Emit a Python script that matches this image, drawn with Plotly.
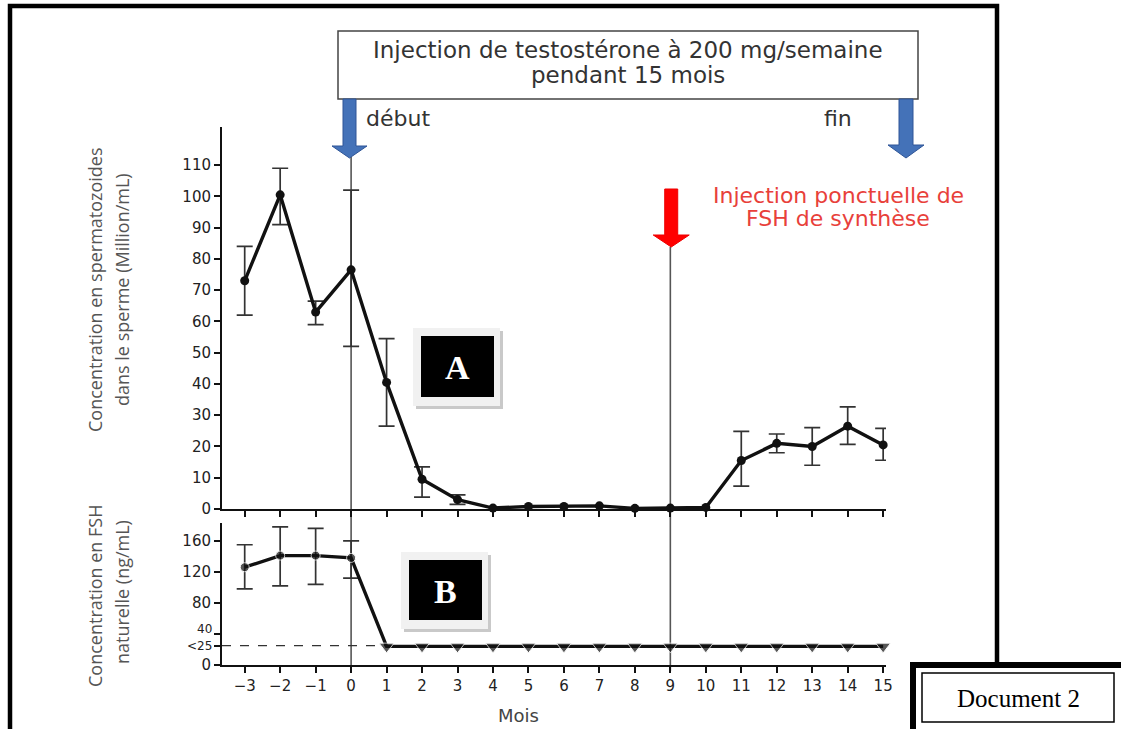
import plotly.graph_objects as go

W, H = 1121, 729

# ---------------- data ----------------
months = [-3, -2, -1, 0, 1, 2, 3, 4, 5, 6, 7, 8, 9, 10, 11, 12, 13, 14, 15]
month_labels = ["−3", "−2", "−1", "0", "1", "2", "3", "4", "5", "6", "7", "8",
                "9", "10", "11", "12", "13", "14", "15"]

# Panel A : sperm concentration (million/mL)
sperm = [73, 100.5, 63, 76.5, 40.5, 9.5, 3, 0.3, 0.8, 0.8, 1.0, 0.2, 0.3, 0.5,
         15.5, 21, 20, 26.5, 20.5]
sperm_err_months = [-3, -2, -1, 0, 1, 2, 3, 11, 12, 13, 14, 15]
sperm_err_high = [84, 109, 66.5, 102, 54.5, 13.5, 4.5, 24.8, 24, 26, 32.7, 25.8]
sperm_err_low = [62, 91, 59, 52, 26.5, 3.8, 1.5, 7.3, 18, 14, 20.7, 15.6]

# Panel B : natural FSH concentration (ng/mL)
fsh = [126, 141, 141, 138, 24, 24, 24, 24, 24, 24, 24, 24, 24, 24, 24, 24, 24, 24, 24]
fsh_err_months = [-3, -2, -1, 0]
fsh_err_high = [155, 178, 176, 160]
fsh_err_low = [98, 102, 104, 112]
fsh_threshold = 25

sperm_ticks = [0, 10, 20, 30, 40, 50, 60, 70, 80, 90, 100, 110]
fsh_tickvals = [0, 25, 40, 80, 120, 160]
fsh_ticktext = ["0", "", "", "80", "120", "160"]
fsh_close_labels = [(40, "40", 5), (25, "<25", 0)]

# ---------------- helpers ----------------
def P(px):
    return px / W


def Q(py):
    return 1 - py / H


X_RANGE = [-3.64, 15.08]
PX_PER_MONTH = 35.47
X0_PX = 351
X_DOMAIN = [P(222), P(886)]
YA_DOMAIN = [Q(509), Q(127)]
YA_RANGE = [0, 122.2]
YB_DOMAIN = [Q(665), Q(523)]
YB_RANGE = [0, 183]

INK = "#111111"
ERR = "#333333"


def err_arrays(xs, ys, err_x, hi, lo):
    plus, minus, ex, ey = [], [], [], []
    for x, h, l in zip(err_x, hi, lo):
        y = ys[xs.index(x)]
        ex.append(x)
        ey.append(y)
        plus.append(h - y)
        minus.append(y - l)
    return ex, ey, plus, minus


fig = go.Figure()

# error bars A
ex, ey, ep, em = err_arrays(months, sperm, sperm_err_months, sperm_err_high, sperm_err_low)
fig.add_trace(go.Scatter(
    x=ex, y=ey, mode="markers", marker=dict(size=1, color="rgba(0,0,0,0)"),
    error_y=dict(type="data", array=ep, arrayminus=em, color=ERR, thickness=1.7, width=8),
    xaxis="x", yaxis="y", showlegend=False, hoverinfo="skip", cliponaxis=False))
# line A
fig.add_trace(go.Scatter(
    x=months, y=sperm, mode="lines+markers",
    line=dict(color=INK, width=3.4), marker=dict(size=9, color=INK),
    xaxis="x", yaxis="y", showlegend=False, cliponaxis=False))

# error bars B
ex, ey, ep, em = err_arrays(months, fsh, fsh_err_months, fsh_err_high, fsh_err_low)
fig.add_trace(go.Scatter(
    x=ex, y=ey, mode="markers", marker=dict(size=1, color="rgba(0,0,0,0)"),
    error_y=dict(type="data", array=ep, arrayminus=em, color=ERR, thickness=1.7, width=8),
    xaxis="x2", yaxis="y2", showlegend=False, hoverinfo="skip", cliponaxis=False))
# line B
symbols = ["circle" if m <= 0 else "triangle-down" for m in months]
sizes = [9 if m <= 0 else 13 for m in months]
fig.add_trace(go.Scatter(
    x=months, y=fsh, mode="lines+markers",
    line=dict(color=INK, width=3.4), marker=dict(size=sizes, color=INK, symbol=symbols),
    xaxis="x2", yaxis="y2", showlegend=False, cliponaxis=False))

TICKFAMILY = "DejaVu Sans"
tickfont = dict(family=TICKFAMILY, size=15, color="#222222")
axis_common = dict(showgrid=False, zeroline=False, showline=True, linecolor=INK,
                   linewidth=2, ticks="outside", ticklen=6, tickwidth=1.6,
                   tickcolor=INK, tickfont=tickfont)

fig.update_layout(
    autosize=True, margin=dict(l=0, r=0, t=0, b=0, autoexpand=False),
    paper_bgcolor="white", plot_bgcolor="rgba(0,0,0,0)",
    xaxis=dict(domain=X_DOMAIN, range=X_RANGE, anchor="y", tickvals=months,
               showticklabels=False, **axis_common),
    yaxis=dict(domain=YA_DOMAIN, range=YA_RANGE, anchor="x", tickvals=sperm_ticks,
               **axis_common),
    xaxis2=dict(domain=X_DOMAIN, range=X_RANGE, anchor="y2", tickvals=months,
                ticktext=month_labels, **axis_common),
    yaxis2=dict(domain=YB_DOMAIN, range=YB_RANGE, anchor="x2", tickvals=fsh_tickvals,
                ticktext=fsh_ticktext, **axis_common),
)

shapes = []


def polyline(pts, color="black", width=1.5, close=False, fill=None):
    path = "M " + " L ".join(f"{P(a)},{Q(b)}" for a, b in pts) + (" Z" if close else "")
    d = dict(type="path", xref="paper", yref="paper", path=path,
             line=dict(color=color, width=width))
    if fill:
        d["fillcolor"] = fill
    return d


# outer frame (left, top, right edges; bottom is cut off by the picture edge)
shapes.append(polyline([(10, 729), (10, 6), (997, 6), (997, 664)], width=4.5))

# vertical event lines (month 0 and month 9)
shapes.append(dict(type="line", xref="x", yref="paper", x0=0, x1=0, y0=Q(157), y1=Q(673),
                   line=dict(color="#555555", width=1.6), layer="below"))
shapes.append(dict(type="line", xref="x", yref="paper", x0=9, x1=9, y0=Q(247), y1=Q(671),
                   line=dict(color="#555555", width=1.6), layer="below"))

# detection threshold dashed line
shapes.append(dict(type="line", xref="x2", yref="y2", x0=X_RANGE[0], x1=15,
                   y0=fsh_threshold, y1=fsh_threshold,
                   line=dict(color="#333333", width=1.3, dash="dash"), layer="below"))

# top text box
shapes.append(dict(type="rect", xref="paper", yref="paper", x0=P(338), y0=Q(31),
                   x1=P(918), y1=Q(99), line=dict(color="#444444", width=1.5),
                   fillcolor="white"))


def month_px(m):
    return X0_PX + m * PX_PER_MONTH


def arrow(xc, y_top, y_head, y_tip, shaft_hw, head_hw, fill, edge):
    pts = [(xc - shaft_hw, y_top), (xc + shaft_hw, y_top), (xc + shaft_hw, y_head),
           (xc + head_hw, y_head), (xc, y_tip), (xc - head_hw, y_head),
           (xc - shaft_hw, y_head)]
    return polyline(pts, color=edge, width=1, close=True, fill=fill)


# blue arrows : start (month 0) and end of treatment
shapes.append(arrow(month_px(0) - 1.5, 99, 146, 158, 6.5, 17.5, "#4472b8", "#2f5597"))
shapes.append(arrow(906, 99, 145, 158, 7, 18, "#4472b8", "#2f5597"))
# red arrow : FSH injection at month 9
shapes.append(arrow(month_px(9) + 1, 189, 235, 247, 6.5, 18, "#ff0000", "#ee0000"))


def label_box(x0, y0, x1, y1):
    # shadow, light frame, black box
    shapes.append(dict(type="rect", xref="paper", yref="paper", x0=P(x0 - 5), y0=Q(y0 - 5),
                       x1=P(x1 + 9), y1=Q(y1 + 12), fillcolor="#c9c9c9", line=dict(width=0)))
    shapes.append(dict(type="rect", xref="paper", yref="paper", x0=P(x0 - 8), y0=Q(y0 - 8),
                       x1=P(x1 + 6), y1=Q(y1 + 9), fillcolor="#f1f1f1", line=dict(width=0)))
    shapes.append(dict(type="rect", xref="paper", yref="paper", x0=P(x0), y0=Q(y0),
                       x1=P(x1), y1=Q(y1), fillcolor="black", line=dict(width=0)))


label_box(421, 336, 494, 397)
label_box(409, 560, 482, 620)

# Document 2 box (outer thick border runs off the right/bottom edges)
shapes.append(dict(type="rect", xref="paper", yref="paper", x0=P(913), y0=Q(729),
                   x1=P(1121), y1=Q(665), fillcolor="white", line=dict(width=0)))
shapes.append(polyline([(913, 729), (913, 665), (1121, 665)], width=6))
shapes.append(dict(type="rect", xref="paper", yref="paper", x0=P(922), y0=Q(673),
                   x1=P(1114), y1=Q(722), line=dict(color="black", width=1.5)))

fig.update_layout(shapes=shapes)

ann = []


def text(x, y, s, size, color="#333333", family="DejaVu Sans", angle=0, xanchor="center",
         weight="normal"):
    ann.append(dict(x=P(x), y=Q(y), xref="paper", yref="paper", text=s, showarrow=False,
                    xanchor=xanchor, yanchor="middle", textangle=angle,
                    font=dict(family=family, size=size, color=color, weight=weight)))


text(628, 50, "Injection de testostérone à 200 mg/semaine", 23)
text(628, 75, "pendant 15 mois", 23)
text(364, 119, "début", 22, xanchor="left")
text(838, 119, "fin", 22)
text(838, 195, "Injection ponctuelle de", 22, color="#e8403a")
text(838, 218, "FSH de synthèse", 22, color="#e8403a")

text(95, 290, "Concentration en spermatozoides", 18, color="#555555", family="Open Sans", angle=-90)
text(122, 290, "dans le sperme (Million/mL)", 18, color="#555555", family="Open Sans", angle=-90)
text(95, 596, "Concentration en FSH", 18, color="#555555", family="Open Sans", angle=-90)
text(122, 592, "naturelle (ng/mL)", 18, color="#555555", family="Open Sans", angle=-90)

text(518, 715, "Mois", 18, color="#444444")

text(457.5, 368, "A", 34, color="white", family="Liberation Serif", weight="bold")
text(445.5, 591, "B", 34, color="white", family="Liberation Serif", weight="bold")

text(1018, 698, "Document 2", 25, color="black", family="Liberation Serif")

# close y2 tick labels (40 and <25), nudged apart as in the original
for val, lab, shift in fsh_close_labels:
    ann.append(dict(x=X_DOMAIN[0], xref="paper", y=val, yref="y2", text=lab, showarrow=False,
                    xanchor="right", yanchor="middle", xshift=-8, yshift=shift,
                    font=dict(family=TICKFAMILY, size=12, color="#222222")))

fig.update_layout(annotations=ann)

fig.write_html(
    "out.html",
    config={"displayModeBar": False, "responsive": True},
    default_width="100vw",
    default_height="100vh",
    post_script="document.body.style.margin='0px';document.body.style.overflow='hidden';",
)
